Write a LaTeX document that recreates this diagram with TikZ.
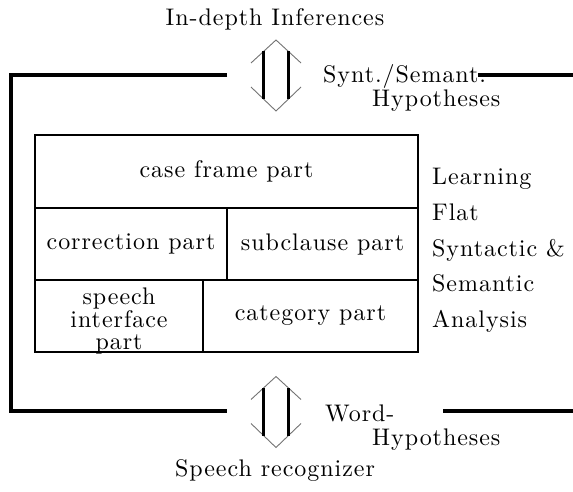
\documentclass[tikz,border=0pt]{standalone}
\usepackage{fontspec}
\newfontfamily\reffont[LetterSpace=4]{lmroman10-regular.otf}
\begin{document}
\begin{tikzpicture}[x=1pt,y=-1pt,
  lbl/.style={font=\reffont\fontsize{24}{22.5}\selectfont, inner sep=0pt},
  frameline/.style={line width=3.4pt},
  boxline/.style={line width=2.2pt},
  head/.style={draw=black!55, line width=0.9pt},
  shaft/.style={line width=2.4pt},
  dblarrow/.pic={
    \draw[head] (-25,-12.5) -- (0,-35.5) -- (25,-12.5);
    \draw[head] (-25,11.5) -- (0,35.5) -- (25,11.5);
    \draw[shaft] (-12.5,-24) -- (-12.5,24);
    \draw[shaft] (12.5,-24) -- (12.5,24);
  }]
\useasboundingbox (0,0) rectangle (573,492);

% outer frame
\coordinate (ftl) at (227,75);
\coordinate (fcornerT) at (11,75);
\coordinate (fcornerB) at (11,411);
\coordinate (fbl) at (227,411);
\coordinate (ftr1) at (478,75);
\coordinate (ftr2) at (573,75);
\coordinate (fbr1) at (443,411);
\coordinate (fbr2) at (573,411);
\draw[frameline] (ftl) -- (fcornerT) -- (fcornerB) -- (fbl);
\draw[frameline] (ftr1) -- (ftr2);
\draw[frameline] (fbr1) -- (fbr2);

% arrows
\pic (upper) at (276,75.5) {dblarrow};
\pic (lower) at (276,412) {dblarrow};

% inner box
\draw[boxline] (35,135) rectangle (418,352);
\draw[boxline] (35,208) -- (418,208);
\draw[boxline] (35,280) -- (418,280);
\draw[boxline] (227,208) -- (227,280);
\draw[boxline] (203,280) -- (203,352);

\node[lbl] (case) at (226.5,171.5) {case frame part};
\node[lbl] (corr) at (131,244) {correction part};
\node[lbl] (subc) at (322.5,244) {subclause part};
\node[lbl,align=center] (speech) at (119,321) {speech\\interface\\part};
\node[lbl] (cat) at (310.5,316) {category part};

% right labels
\node[lbl,anchor=base west] (l1) at (432,185) {Learning};
\node[lbl,anchor=base west] (l2) at (432,220.5) {Flat};
\node[lbl,anchor=base west] (l3) at (432,256) {Syntactic \&};
\node[lbl,anchor=base west] (l4) at (432,291.5) {Semantic};
\node[lbl,anchor=base west] (l5) at (432,327) {Analysis};

% outer labels
\node[lbl,anchor=base] (inf) at (275,26) {In-depth Inferences};
\node[lbl,anchor=base west] (synt) at (323,83) {Synt./Semant.};
\node[lbl,anchor=base west] (hyp1) at (372,107) {Hypotheses};
\node[lbl,anchor=base west] (word) at (325,421) {Word-};
\node[lbl,anchor=base west] (hyp2) at (372,445) {Hypotheses};
\node[lbl,anchor=base] (rec) at (275,476) {Speech recognizer};
\end{tikzpicture}
\end{document}
